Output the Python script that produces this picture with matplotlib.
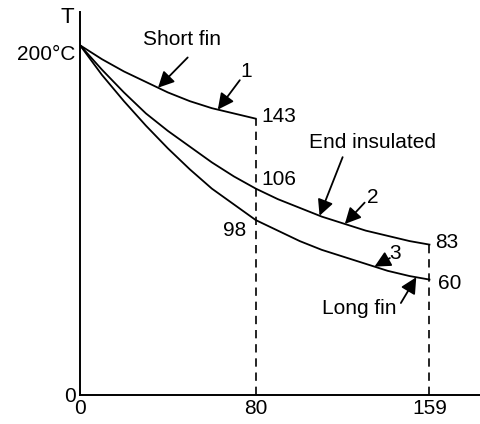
import numpy as np
import matplotlib
matplotlib.use('Agg')
import matplotlib.pyplot as plt
import matplotlib.transforms as mtransforms

plt.rcParams['font.family'] = ['Liberation Sans', 'DejaVu Sans']

# Fin length (picture units) and temperature
x_short = [0, 5, 10, 15, 20, 25, 30, 40, 50, 60, 70, 80]
t_short = [200, 196, 192, 188.5, 185, 182, 179, 173, 168, 164, 161, 158]

x_long = [0, 5, 10, 15, 20, 30, 40, 50, 60, 70, 80, 90, 100, 110, 120, 130, 140, 150, 159]
t_insulated = [200, 193, 186, 179.5, 173, 161, 151, 142, 133, 125, 118, 112, 107, 102, 98, 94, 91, 88, 86]
t_longfin = [200, 191.5, 183, 175.5, 168, 154, 141, 129, 118, 109, 100, 94, 88, 83, 79, 75, 71, 68, 66]

x_ticks = [0, 80, 159]
x_tick_labels = ['0', '80', '159']
y_ticks = [0, 200]
y_tick_labels = ['0', '200°C']

fig = plt.figure(figsize=(4.8, 4.24), dpi=100)
ax = fig.add_axes([80 / 480, 29 / 424, 400 / 480, 383 / 424])

ax.plot(x_short, t_short, color='black', lw=1.3)
ax.plot(x_long, t_insulated, color='black', lw=1.3)
ax.plot(x_long, t_longfin, color='black', lw=1.3)

# dashed drop lines at the fin ends
ax.plot([x_short[-1], x_short[-1]], [0, t_short[-1]], color='black', lw=1.2, ls=(0, (5, 3.5)))
ax.plot([x_long[-1], x_long[-1]], [0, t_insulated[-1]], color='black', lw=1.2, ls=(0, (5, 3.5)))

ax.set_xlim(0, 182)
ax.set_ylim(0, 219)
for s in ['top', 'right']:
    ax.spines[s].set_visible(False)
for s in ['left', 'bottom']:
    ax.spines[s].set_linewidth(1.4)
ax.set_xticks(x_ticks)
ax.set_xticklabels(x_tick_labels)
ax.set_yticks(y_ticks)
ax.set_yticklabels(y_tick_labels)
ax.tick_params(length=0, labelsize=15, pad=3)
# the 200°C label sits a little below its level in the sketch
shift = mtransforms.ScaledTranslation(0, -5 / 72, fig.dpi_scale_trans)
lab = ax.get_yticklabels()[1]
lab.set_transform(lab.get_transform() + shift)
ax.text(-5.9, 216, 'T', fontsize=16, ha='center', va='center', clip_on=False)

fs = 15
arrow = dict(arrowstyle='-|>', color='black', lw=1.3, mutation_scale=24,
             shrinkA=0, shrinkB=0)


def point_on(xs, ts, x):
    return (x, float(np.interp(x, xs, ts)))


ax.annotate('', xy=point_on(x_short, t_short, 35.5), xytext=(49, 193), arrowprops=arrow)
ax.text(46.4, 203, 'Short fin', fontsize=fs, ha='center', va='center')
ax.annotate('', xy=point_on(x_short, t_short, 62.7), xytext=(72.7, 180), arrowprops=arrow)
ax.text(75.5, 185, '1', fontsize=fs, ha='center', va='center')

ax.annotate('', xy=point_on(x_long, t_insulated, 109), xytext=(119.5, 136), arrowprops=arrow)
ax.text(133, 144.6, 'End insulated', fontsize=fs, ha='center', va='center')
ax.annotate('', xy=point_on(x_long, t_insulated, 120.5), xytext=(129.5, 110), arrowprops=arrow)
ax.text(133, 113, '2', fontsize=fs, ha='center', va='center')

ax.annotate('', xy=point_on(x_long, t_longfin, 134), xytext=(141, 78.3), arrowprops=arrow)
ax.text(143.5, 81, '3', fontsize=fs, ha='center', va='center')
ax.annotate('', xy=point_on(x_long, t_longfin, 153), xytext=(146, 52.6), arrowprops=arrow)
ax.text(127, 49.7, 'Long fin', fontsize=fs, ha='center', va='center')

ax.text(82.7, 159, '143', fontsize=fs, ha='left', va='center')
ax.text(82.3, 123, '106', fontsize=fs, ha='left', va='center')
ax.text(75.5, 94.3, '98', fontsize=fs, ha='right', va='center')
ax.text(161.8, 87, '83', fontsize=fs, ha='left', va='center')
ax.text(162.7, 64, '60', fontsize=fs, ha='left', va='center')

fig.savefig('out.png', dpi=100)
